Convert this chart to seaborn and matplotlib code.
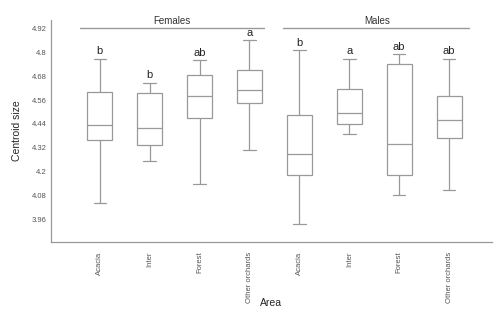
import numpy as np
import pandas as pd
import matplotlib
matplotlib.use("Agg")
import matplotlib.pyplot as plt
import seaborn as sns

# five-number summaries: lower whisker, Q1, median, Q3, upper whisker
areas = ["Acacia", "Inter", "Forest", "Other orchards"]
sexes = ["Females", "Males"]
letters = ["b", "b", "ab", "a", "b", "a", "ab", "ab"]

female_stats = [
    [4.043, 4.36, 4.435, 4.60, 4.767],
    [4.257, 4.335, 4.42, 4.595, 4.647],
    [4.14, 4.468, 4.58, 4.683, 4.76],
    [4.31, 4.547, 4.61, 4.71, 4.86],
]
male_stats = [
    [3.94, 4.185, 4.29, 4.487, 4.81],
    [4.39, 4.438, 4.497, 4.617, 4.767],
    [4.083, 4.183, 4.34, 4.74, 4.79],
    [4.11, 4.369, 4.46, 4.578, 4.767],
]
yticks = [3.96, 4.08, 4.2, 4.32, 4.44, 4.56, 4.68, 4.8, 4.92]

rows = []
for sex, stats in zip(sexes, [female_stats, male_stats]):
    for area, vals in zip(areas, stats):
        for v in vals:
            rows.append({"key": sex + "_" + area, "area": area, "sex": sex, "size": v})
df = pd.DataFrame(rows)
order = [s + "_" + a for s in sexes for a in areas]

sns.set_style("white")
plt.rcParams["font.family"] = ["Liberation Sans", "DejaVu Sans"]

fig = plt.figure(figsize=(4.99, 3.13), dpi=100)
ax = fig.add_axes([0.102, 0.227, 0.884, 0.709])

sns.boxplot(data=df, x="key", y="size", order=order, whis=np.inf, width=0.5,
            color="white", linecolor="#999999", linewidth=0.9, ax=ax)

ax.set_ylim(3.85, 4.96)
ax.set_xlim(-0.98, 7.86)
ax.set_yticks(yticks)
ax.set_yticklabels([f"{t:g}" for t in yticks], fontsize=5.5, color="#555555")
ax.set_xticks(range(len(order)))
ax.set_xticklabels(areas * 2, rotation=90, fontsize=5.5, color="#555555")
ax.tick_params(axis="y", length=2, color="#888888", pad=1)
ax.tick_params(axis="x", length=0, pad=7)

for side in ["top", "right"]:
    ax.spines[side].set_visible(False)
for side in ["left", "bottom"]:
    ax.spines[side].set_color("#999999")
    ax.spines[side].set_linewidth(0.9)

ax.set_ylabel("Centroid size", fontsize=7.5)
ax.yaxis.set_label_coords(-0.066, 0.5)
ax.set_xlabel("Area", fontsize=7.5, va="center")
ax.xaxis.set_label_coords(0.5, -0.275)

# significance letters above each box
all_stats = female_stats + male_stats
for i, (lab, st) in enumerate(zip(letters, all_stats)):
    ax.text(i, st[-1] + 0.012, lab, ha="center", va="bottom", fontsize=8, color="#222222")

# group headers
ax.plot([-0.4, 3.3], [4.92, 4.92], color="#999999", lw=1, clip_on=False)
ax.plot([3.67, 7.4], [4.92, 4.92], color="#999999", lw=1, clip_on=False)
ax.text(1.45, 4.93, "Females", ha="center", va="bottom", fontsize=7, color="#333333")
ax.text(5.55, 4.93, "Males", ha="center", va="bottom", fontsize=7, color="#333333")

fig.savefig("out.png", dpi=100)
